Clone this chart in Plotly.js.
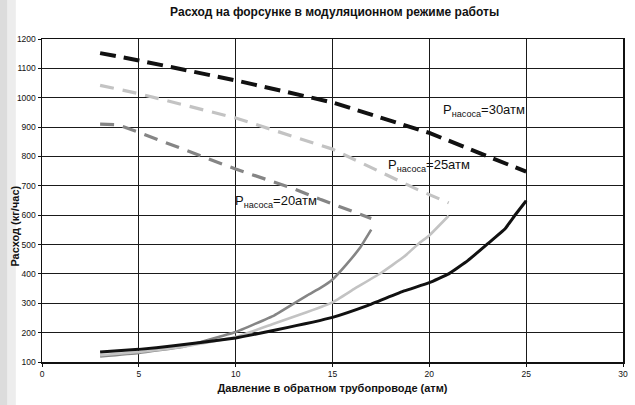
<!DOCTYPE html>
<html>
<head>
<meta charset="utf-8">
<script src="https://cdn.plot.ly/plotly-3.0.1.min.js"></script>
<style>
  html, body { margin: 0; padding: 0; background: #fff; }
  #chart { width: 635px; height: 405px; }
</style>
</head>
<body>
<div id="chart"></div>
<script>
  // Flow at the nozzle.
  // Dashed = upper branch, solid = lower branch, one pair per pump pressure.
  const x30Dash = [3, 5, 10, 15, 20, 25];
  const y30Dash = [1152, 1127, 1059, 984, 880, 748];
  const x25Dash = [3, 5, 10, 15, 19.4, 21];
  const y25Dash = [1042, 1014, 931, 825, 687, 642];
  const x20Dash = [3, 3.9, 5, 10, 13, 14.4, 17];
  const y20Dash = [910, 908, 882, 757, 690, 653, 589];

  const x30Solid = [3, 5, 6.8, 10, 12, 15, 16.8, 18.7, 20, 21, 22, 23, 23.9, 24.4, 25];
  const y30Solid = [134, 143, 155, 182, 208, 252, 292, 342, 370, 400, 446, 502, 553, 598, 649];
  const x25Solid = [3, 5, 7.2, 10, 12, 13.7, 15, 16.1, 17.5, 18.7, 19.5, 20, 21];
  const y25Solid = [123, 134, 151, 185, 231, 270, 303, 348, 403, 459, 506, 531, 598];
  const x20Solid = [3, 5, 7.2, 8.5, 10, 12, 13.7, 14.4, 15, 15.7, 16.4, 17];
  const y20Solid = [119, 131, 151, 174, 202, 259, 327, 353, 381, 431, 487, 551];

  const labelText = ["P<sub>насоса</sub>=30атм", "P<sub>насоса</sub>=25атм", "P<sub>насоса</sub>=20атм"];
  const labelX = [22.8, 20.0, 12.1];
  const labelY = [955, 770, 648];

  const SANS = "'Liberation Sans', Arial, sans-serif";
  const BLACK = "#111111";
  const MID = "#858585";
  const LIGHT = "#c3c3c3";

  function line(xs, ys, color, width, dash) {
    return {
      x: xs, y: ys, type: "scatter", mode: "lines",
      line: dash
        ? { color: color, width: width, dash: dash }
        : { color: color, width: width, shape: "spline", smoothing: 0.3 },
      hoverinfo: "skip",
    };
  }

  const traces = [
    line(x20Solid, y20Solid, MID, 2.6),
    line(x25Solid, y25Solid, LIGHT, 2.6),
    line(x30Solid, y30Solid, BLACK, 3),
    line(x20Dash, y20Dash, MID, 3.2, "14px,9px"),
    line(x25Dash, y25Dash, LIGHT, 3.2, "14px,9px"),
    line(x30Dash, y30Dash, BLACK, 4, "16px,8px"),
  ];

  const annotations = labelText.map(function (t, i) {
    return {
      x: labelX[i], y: labelY[i], xref: "x", yref: "y",
      text: t, showarrow: false, xanchor: "center", yanchor: "middle",
      font: { family: SANS, size: 13, color: "#111" },
    };
  });
  // y title sits a little below the plot centre in the scan
  annotations.push({
    x: -0.046, y: 0.42, xref: "paper", yref: "paper", xanchor: "center", yanchor: "middle",
    text: "<b>Расход (кг/час)</b>", textangle: -90, showarrow: false,
    font: { family: SANS, size: 11, color: "#111" },
  });

  const axisBase = {
    showgrid: true, gridcolor: "#1a1a1a", gridwidth: 1,
    showline: true, linecolor: "#111", linewidth: 1.5, mirror: true,
    zeroline: false, ticks: "outside", ticklen: 3, tickcolor: "#111",
    tickfont: { family: SANS, size: 8.5, color: "#111" },
  };

  const layout = {
    width: 635, height: 405,
    paper_bgcolor: "#fff", plot_bgcolor: "#fff",
    margin: { l: 42, r: 12, t: 39, b: 43 },
    showlegend: false,
    title: {
      text: "<b>Расход на форсунке в модуляционном режиме работы</b>",
      x: 0.527, xanchor: "center", y: 0.97, yanchor: "middle", yref: "container",
      font: { family: SANS, size: 12, color: "#111" },
    },
    xaxis: Object.assign({}, axisBase, {
      range: [0, 30], dtick: 5, tick0: 0,
      title: { text: "<b>Давление в обратном трубопроводе (атм)</b>", standoff: 6,
               font: { family: SANS, size: 11, color: "#111" } },
    }),
    yaxis: Object.assign({}, axisBase, { range: [100, 1200], dtick: 100, tick0: 100 }),
    annotations: annotations,
    shapes: [
      { type: "rect", xref: "paper", yref: "paper", x0: -0.073, x1: -0.045, y0: -0.14, y1: 1.13,
        fillcolor: "rgba(0,0,0,0.07)", line: { width: 0 }, layer: "below" },
      { type: "rect", xref: "paper", yref: "paper", x0: -0.073, x1: -0.06, y0: -0.14, y1: 1.13,
        fillcolor: "rgba(0,0,0,0.07)", line: { width: 0 }, layer: "below" },
    ],
  };

  Plotly.newPlot("chart", traces, layout, { displayModeBar: false, staticPlot: true });
</script>
</body>
</html>
